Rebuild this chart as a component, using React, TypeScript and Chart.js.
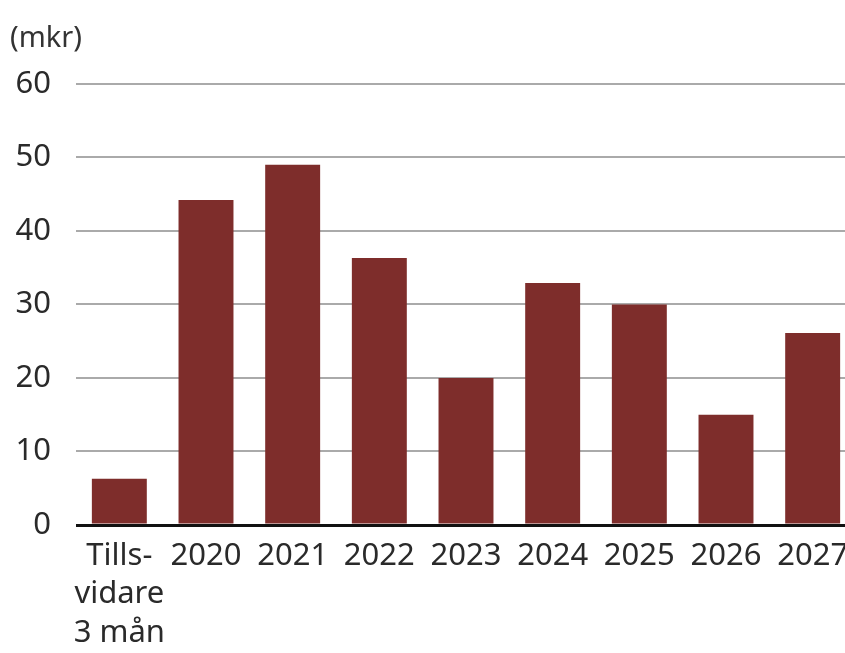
import React, { useEffect, useRef } from "react";
import { Chart, registerables } from "chart.js";

Chart.register(...registerables);

const categories: (string | string[])[] = [
  ["Tills-", "vidare", "3 mån"],
  "2020",
  "2021",
  "2022",
  "2023",
  "2024",
  "2025",
  "2026",
  "2027",
];
const values = [6.3, 44.2, 49.0, 36.3, 20.0, 32.9, 30.0, 15.0, 26.1];
const unitLabel = "(mkr)";
const yMin = 0;
const yMax = 60;
const yStep = 10;

const FONT = "'Noto Sans', 'Open Sans', sans-serif";

export default function App() {
  const ref = useRef<HTMLCanvasElement | null>(null);

  useEffect(() => {
    if (!ref.current) return;
    const chart = new Chart(ref.current, {
      type: "bar",
      data: {
        labels: categories,
        datasets: [
          {
            data: values,
            backgroundColor: "#7e2d2b",
            borderWidth: 0,
            categoryPercentage: 1,
            barPercentage: 0.634,
          },
        ],
      },
      options: {
        animation: false,
        responsive: false,
        maintainAspectRatio: false,
        layout: { padding: { left: 10, right: 14, top: 0, bottom: 0 } },
        plugins: {
          legend: { display: false },
          tooltip: { enabled: false },
          title: {
            display: true,
            text: unitLabel,
            align: "start",
            color: "#333",
            font: { family: FONT, size: 29, weight: "normal" },
            padding: { top: 21, bottom: 28 },
          },
        },
        scales: {
          x: {
            grid: { display: false, drawTicks: false },
            border: { display: false },
            ticks: {
              color: "#2a2a2a",
              font: { family: FONT, size: 31, lineHeight: 1.24 },
              padding: 12,
              maxRotation: 0,
              autoSkip: false,
            },
            afterFit: (s: any) => {
              s.height = 128;
            },
          },
          y: {
            min: yMin,
            max: yMax,
            border: { display: false },
            grid: {
              drawTicks: false,
              color: (c: any) => (c.tick && c.tick.value === 0 ? "#111" : "#aaaaaa"),
              lineWidth: (c: any) => (c.tick && c.tick.value === 0 ? 3 : 2),
            },
            ticks: {
              stepSize: yStep,
              color: "#2a2a2a",
              font: { family: FONT, size: 31 },
              padding: 25,
            },
            afterFit: (s: any) => {
              s.width = 66;
            },
          },
        },
      },
    });
    return () => chart.destroy();
  }, []);

  return (
    <div
      style={{
        position: "fixed",
        left: 0,
        top: 0,
        width: 845,
        height: 653,
        overflow: "hidden",
        background: "#fff",
      }}
    >
      <canvas ref={ref} width={870} height={653} style={{ display: "block" }} />
    </div>
  );
}
